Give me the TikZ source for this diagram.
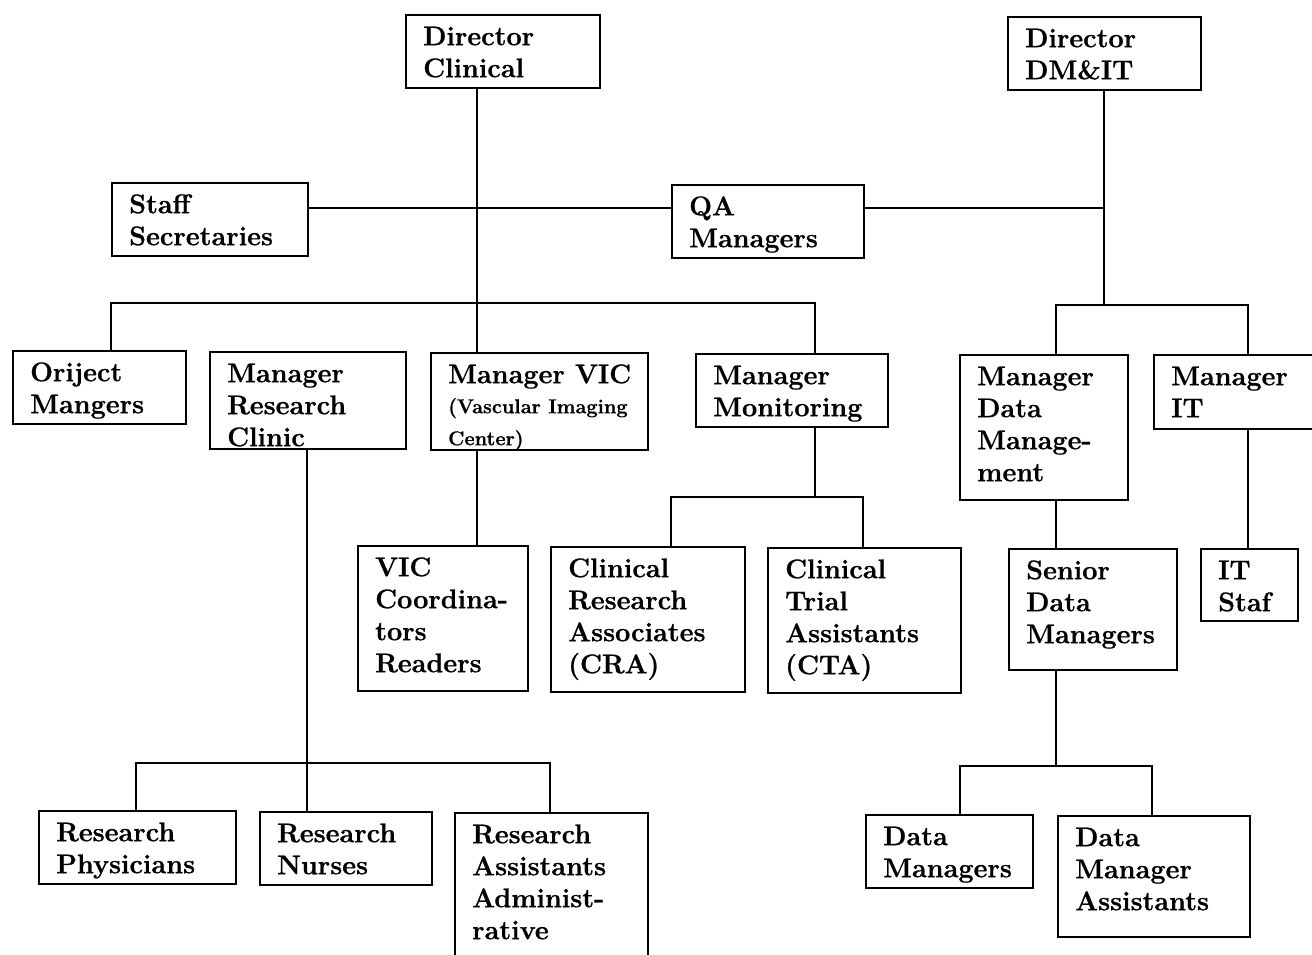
\documentclass[tikz,border=0pt]{standalone}
\usepackage{fontspec}
\setmainfont{Latin Modern Roman}[BoldFeatures={FakeBold=0.8}]
\usepackage{tikz}

% box contents: width, height (px), text
\newcommand{\unitbox}[3]{\parbox[t][#2pt][t]{\dimexpr#1pt-34pt\relax}{\raggedright\rule{0pt}{30pt}#3}}

\tikzset{
  unit/.style={draw, line width=2.4pt, anchor=north west, inner xsep=17pt, inner ysep=0pt},
}

\begin{document}
\begin{tikzpicture}[x=1pt, y=-1pt, line width=2.4pt,
                    font=\fontsize{27}{32}\selectfont\bfseries]
  \useasboundingbox (0,0) rectangle (1312,954);

  % directors and staff
  \node[unit] (dirc)  at (405,14)  {\unitbox{194}{73}{Director\\Clinical}};
  \node[unit] (dmit)  at (1007,16) {\unitbox{193}{73}{Director\\DM\&IT}};
  \node[unit] (staff) at (111,182) {\unitbox{196}{73}{Staff\\Secretaries}};
  \node[unit] (qa)    at (671,184) {\unitbox{192}{73}{QA\\Managers}};

  % managers
  \node[unit] (orj)  at (12,350)   {\unitbox{173}{73}{Oriject\\Mangers}};
  \node[unit] (mrc)  at (209,351)  {\unitbox{196}{97}{Manager\\Research\\Clinic}};
  \node[unit] (vic)  at (430,352)  {\unitbox{217}{97}{Manager VIC\\{\fontsize{20}{30}\selectfont(Vascular Imaging\\Center)}}};
  \node[unit] (mmon) at (695,353)  {\unitbox{192}{73}{Manager\\Monitoring}};
  \node[unit] (mdm)  at (959,354)  {\unitbox{168}{145}{Manager\\Data\\Manage-\\ment}};
  \node[unit] (mit)  at (1153,354) {\unitbox{180}{74}{Manager\\IT}};

  % staff groups
  \node[unit] (vicc) at (357,545)  {\unitbox{170}{145}{VIC\\Coordina-\\tors\\Readers}};
  \node[unit] (cra)  at (550,546)  {\unitbox{194}{145}{Clinical\\Research\\Associates\\(CRA)}};
  \node[unit] (cta)  at (767,547)  {\unitbox{193}{145}{Clinical\\Trial\\Assistants\\(CTA)}};
  \node[unit] (sdm)  at (1008,548) {\unitbox{168}{121}{Senior\\Data\\Managers}};
  \node[unit] (its)  at (1200,548) {\unitbox{97}{72}{IT\\Staf}};

  \node[unit] (rp)   at (38,810)   {\unitbox{197}{73}{Research\\Physicians}};
  \node[unit] (rn)   at (259,811)  {\unitbox{172}{73}{Research\\Nurses}};
  \node[unit] (ra)   at (454,812)  {\unitbox{193}{160}{Research\\Assistants\\Administ-\\rative}};
  \node[unit] (dman) at (865,814)  {\unitbox{167}{73}{Data\\Managers}};
  \node[unit] (dma)  at (1057,815) {\unitbox{192}{121}{Data\\Manager\\Assistants}};

  \coordinate (itbar)  at (1104,305);
  \coordinate (monbar) at (815,497);
  \coordinate (dbar)   at (1056,766);

  % clinical side
  \draw ([xshift=72pt]dirc.south west) -- ([xshift=47pt]vic.north west);
  \draw ([xshift=47pt]vic.south west) -- ([xshift=120pt]vicc.north west);
  \draw ([yshift=-26pt]staff.north east) -- ([yshift=-24pt]qa.north west);
  \draw ([xshift=99pt]orj.north west) -- ++(0,-47) -| ([xshift=120pt]mmon.north west);
  \draw ([xshift=120pt]mmon.south west) -- (monbar);
  \draw ([xshift=121pt]cra.north west) |- (monbar) -| ([xshift=96pt]cta.north west);
  \draw ([xshift=98pt]mrc.south west) -- ([xshift=48pt]rn.north west);
  \draw ([xshift=98pt]rp.north west) -- ++(0,-47) -| ([xshift=96pt]ra.north west);

  % DM&IT side
  \draw ([yshift=-24pt]qa.north east) -| ([xshift=97pt]dmit.south west);
  \draw ([xshift=97pt]dmit.south west) -- (itbar);
  \draw ([xshift=97pt]mdm.north west) |- (itbar) -| ([xshift=95pt]mit.north west);
  \draw ([xshift=95pt]mit.south west) -- ([xshift=48pt]its.north west);
  \draw ([xshift=97pt]mdm.south west) -- ([xshift=48pt]sdm.north west);
  \draw ([xshift=48pt]sdm.south west) -- (dbar);
  \draw ([xshift=95pt]dman.north west) |- (dbar) -| ([xshift=95pt]dma.north west);
\end{tikzpicture}
\end{document}
